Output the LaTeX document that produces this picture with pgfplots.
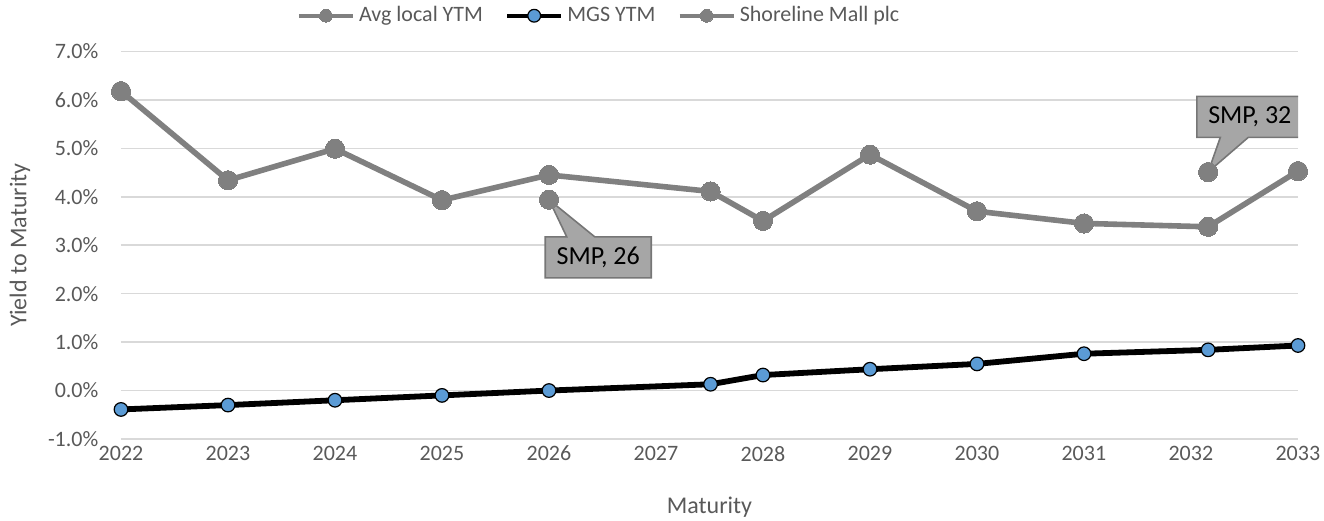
\documentclass[border=0pt]{standalone}
\usepackage{fontspec}
\setmainfont{Carlito}
\usepackage{pgfplots}
\pgfplotsset{compat=1.18}
\usetikzlibrary{shapes.callouts}
\definecolor{gridgray}{HTML}{D9D9D9}
\definecolor{avggray}{HTML}{808080}
\definecolor{mgsblue}{HTML}{5B9BD5}
\definecolor{textgray}{HTML}{595959}
\definecolor{callfill}{HTML}{A6A6A6}
\definecolor{calldraw}{HTML}{767676}
\begin{document}
\begin{tikzpicture}
\begin{axis}[
  name=ax,
  scale only axis, width=588.5pt, height=193.8pt,
  xmin=2022, xmax=2033, ymin=-1, ymax=7,
  xtick={2022,...,2033}, ytick={-1,0,...,7},
  axis line style={draw=none}, major tick style={draw=none},
  ymajorgrids, grid style={draw=gridgray, line width=0.8pt},
  /pgf/number format/assume math mode=true,
  x tick label style={/pgf/number format/1000 sep={}},
  yticklabel={\pgfmathprintnumber[fixed,fixed zerofill,precision=1]{\tick}\%},
  tick label style={font=\fontsize{11}{13}\selectfont, text=textgray},
  yticklabel style={xshift=-7.8pt},
  xlabel={Maturity}, ylabel={Yield to Maturity},
  every axis x label/.style={at={(axis description cs:0.5,0)}, yshift=-34pt, anchor=center, font=\fontsize{12}{14}\selectfont, text=textgray},
  every axis y label/.style={at={(axis description cs:0,0.5)}, xshift=-50.5pt, rotate=90, anchor=center, font=\fontsize{12}{14}\selectfont, text=textgray},
  unbounded coords=jump,
  legend style={at={(rel axis cs:0.407,1.092)}, anchor=center, draw=none, fill=none,
    legend columns=-1, font=\fontsize{11}{13}\selectfont, text=textgray, inner sep=0pt,
    /tikz/every even column/.append style={column sep=9pt}},
  legend cell align=left,
  legend image code/.code={\draw[#1, line width=2.2pt, mark size=3.2pt, mark repeat=2, mark phase=2] plot coordinates {(0pt,0pt) (13.5pt,0pt) (27pt,0pt)};},
]
\addplot[avggray, line width=2.8pt, line join=round, mark=*, mark size=4.8pt,
  mark options={fill=avggray, draw=avggray, line width=0pt}] coordinates {
  (2022,6.18) (2023,4.34) (2024,4.99) (2025,3.93) (2026,4.45) (2027.51,4.11)
  (2028,3.50) (2029,4.87) (2030,3.70) (2031,3.45) (2032.16,3.38) (2033,4.53)};
\addlegendentry{Avg local YTM}
\addplot[black, line width=2.9pt, line join=round, mark=*, mark size=3.4pt,
  mark options={fill=mgsblue, draw=black, line width=0.6pt}] coordinates {
  (2022,-0.39) (2023,-0.30) (2024,-0.20) (2025,-0.10) (2026,0.00) (2027.51,0.13)
  (2028,0.32) (2029,0.44) (2030,0.55) (2031,0.76) (2032.16,0.84) (2033,0.93)};
\addlegendentry{MGS YTM}
\addplot[avggray, line width=2.8pt, mark=*, mark size=4.8pt,
  mark options={fill=avggray, draw=avggray, line width=0pt}] coordinates {
  (2026,3.94) (2029,nan) (2032.16,4.51)};
\addlegendentry{Shoreline Mall plc}
\node[rectangle callout, callout absolute pointer={(axis cs:2026,3.94)}, callout pointer width=14pt,
  fill=callfill, draw=calldraw, line width=0.8pt, minimum width=53pt, minimum height=20.5pt,
  font=\fontsize{13}{15}\selectfont, text=black, inner sep=0pt] at (axis cs:2026.46,2.75) {SMP, 26};
\node[rectangle callout, callout absolute pointer={(axis cs:2032.16,4.51)}, callout pointer width=14pt,
  fill=callfill, draw=calldraw, line width=0.8pt, minimum width=53pt, minimum height=20.5pt,
  font=\fontsize{13}{15}\selectfont, text=black, inner sep=0pt] at (axis cs:2032.55,5.65) {SMP, 32};
\end{axis}
\pgfresetboundingbox
\path ([shift={(-60.5pt,-40.5pt)}]ax.south west) rectangle ([shift={(13pt,25.7pt)}]ax.north east);
\end{tikzpicture}
\end{document}
